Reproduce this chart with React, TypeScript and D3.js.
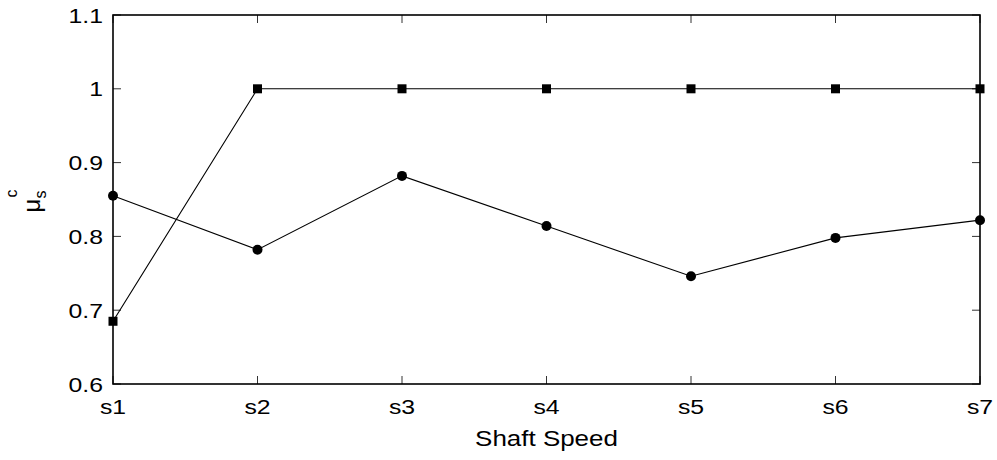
import React from "react";
import * as d3 from "d3";

const categories = ["s1", "s2", "s3", "s4", "s5", "s6", "s7"];
const squareSeries = [0.685, 1.0, 1.0, 1.0, 1.0, 1.0, 1.0];
const circleSeries = [0.855, 0.782, 0.882, 0.814, 0.746, 0.798, 0.822];
const yTicks = [0.6, 0.7, 0.8, 0.9, 1, 1.1];
const xTitle = "Shaft Speed";

const W = 997;
const H = 460;
const margin = { left: 113, right: 17, top: 15, bottom: 76 };
const FONT = "Liberation Sans, Arial, sans-serif";
const FS = 21;
const SX = 1.18;

export default function App() {
  const x = d3
    .scalePoint<string>()
    .domain(categories)
    .range([margin.left, W - margin.right]);
  const y = d3
    .scaleLinear()
    .domain([0.6, 1.1])
    .range([H - margin.bottom, margin.top]);

  const line = d3
    .line<number>()
    .x((_, i) => x(categories[i]) as number)
    .y((d) => y(d));

  const x0 = margin.left;
  const x1 = W - margin.right;
  const y0 = H - margin.bottom;
  const y1 = margin.top;
  const tickLen = 8;

  const Txt = (props: {
    x: number;
    y: number;
    anchor: string;
    size?: number;
    children: React.ReactNode;
  }) => (
    <g transform={`translate(${props.x},${props.y}) scale(${SX},1)`}>
      <text
        x={0}
        y={0}
        textAnchor={props.anchor as any}
        fontFamily={FONT}
        fontSize={props.size ?? FS}
        fill="#000"
      >
        {props.children}
      </text>
    </g>
  );

  return (
    <div style={{ position: "absolute", left: 0, top: 0 }}>
      <svg width={W} height={H} style={{ display: "block", background: "#fff" }}>
        <rect x={0} y={0} width={W} height={H} fill="#fff" />

        {/* inward ticks on all four sides */}
        {yTicks.map((t) => (
          <g key={"yt" + t} stroke="#333" strokeWidth={1}>
            <line x1={x0} x2={x0 + tickLen} y1={y(t)} y2={y(t)} />
            <line x1={x1} x2={x1 - tickLen} y1={y(t)} y2={y(t)} />
          </g>
        ))}
        {categories.map((c) => (
          <g key={"xt" + c} stroke="#333" strokeWidth={1}>
            <line x1={x(c)} x2={x(c)} y1={y0} y2={y0 - tickLen} />
            <line x1={x(c)} x2={x(c)} y1={y1} y2={y1 + tickLen} />
          </g>
        ))}

        {/* series lines */}
        <path d={line(squareSeries) || ""} fill="none" stroke="#000" strokeWidth={1.1} />
        <path d={line(circleSeries) || ""} fill="none" stroke="#000" strokeWidth={1.1} />

        {/* markers */}
        {squareSeries.map((v, i) => (
          <rect
            key={"sq" + i}
            x={(x(categories[i]) as number) - 4.5}
            y={y(v) - 4.5}
            width={9}
            height={9}
            fill="#000"
          />
        ))}
        {circleSeries.map((v, i) => (
          <circle key={"ci" + i} cx={x(categories[i]) as number} cy={y(v)} r={5} fill="#000" />
        ))}

        {/* axes box */}
        <rect
          x={x0}
          y={y1}
          width={x1 - x0}
          height={y0 - y1}
          fill="none"
          stroke="#000"
          strokeWidth={1.6}
        />

        {/* tick labels */}
        {yTicks.map((t) => (
          <Txt key={"yl" + t} x={x0 - 10} y={y(t) + 7.5} anchor="end">
            {d3.format("~g")(t)}
          </Txt>
        ))}
        {categories.map((c) => (
          <Txt key={"xl" + c} x={x(c) as number} y={y0 + 30} anchor="middle">
            {c}
          </Txt>
        ))}

        {/* axis titles */}
        <Txt x={(x0 + x1) / 2} y={446} anchor="middle" size={22}>
          {xTitle}
        </Txt>
        <g transform={`translate(40,${(y0 + y1) / 2}) rotate(-90)`}>
          <text x={-13} y={0} fontFamily={FONT} fontSize={24} fill="#000">
            μ
          </text>
          <text x={1} y={6} fontFamily={FONT} fontSize={16} fill="#000">
            s
          </text>
          <text x={2} y={-23} fontFamily={FONT} fontSize={16} fill="#000">
            c
          </text>
        </g>
      </svg>
    </div>
  );
}
